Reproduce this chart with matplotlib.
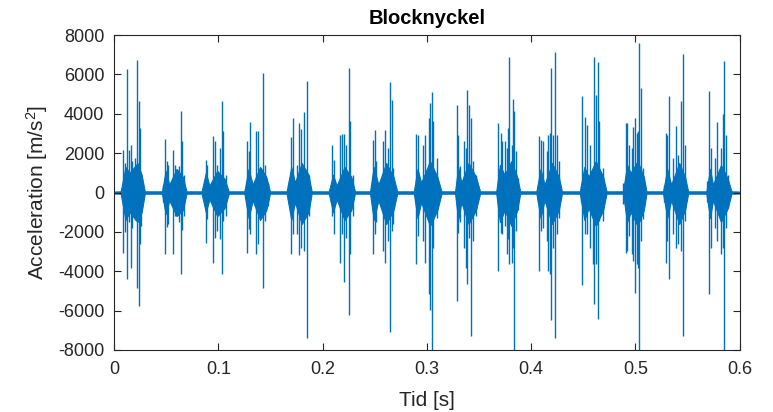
import numpy as np
import matplotlib.pyplot as plt

plt.rcParams['font.family'] = ['Liberation Sans', 'DejaVu Sans']
plt.rcParams['mathtext.fontset'] = 'custom'
plt.rcParams['mathtext.rm'] = 'Liberation Sans'
plt.rcParams['mathtext.it'] = 'Liberation Sans'
plt.rcParams['axes.unicode_minus'] = False

blue = '#0072BD'
dark = '#262626'

# dense core of each burst: envelope knots (time, upper, lower)
core_t = [0.0, 0.0064, 0.0110, 0.0150, 0.0225, 0.0265, 0.0295,
          0.0460, 0.0495, 0.0530, 0.0600, 0.0660, 0.0695,
          0.0840, 0.0880, 0.0915, 0.0990, 0.1060, 0.1100,
          0.1250, 0.1290, 0.1330, 0.1400, 0.1460, 0.1495,
          0.1655, 0.1700, 0.1735, 0.1800, 0.1865, 0.1895,
          0.2060, 0.2100, 0.2135, 0.2210, 0.2275, 0.2310,
          0.2455, 0.2490, 0.2535, 0.2610, 0.2680, 0.2715,
          0.2875, 0.2910, 0.2945, 0.3030, 0.3100, 0.3140,
          0.3270, 0.3300, 0.3330, 0.3400, 0.3470, 0.3510,
          0.3665, 0.3700, 0.3745, 0.3810, 0.3865, 0.3895,
          0.4050, 0.4090, 0.4128, 0.4200, 0.4265, 0.4295,
          0.4467, 0.4510, 0.4550, 0.4620, 0.4690, 0.4722,
          0.4880, 0.4920, 0.4955, 0.5020, 0.5080, 0.5105,
          0.5265, 0.5305, 0.5342, 0.5420, 0.5475, 0.5505,
          0.5680, 0.5715, 0.5743, 0.5820, 0.5885, 0.5920, 0.6]
core_hi = [50, 60, 1300, 1000, 1500, 900, 60,
           60, 1100, 400, 1200, 800, 60,
           60, 1000, 350, 1100, 700, 60,
           60, 1200, 400, 1300, 800, 60,
           60, 1300, 500, 1500, 900, 60,
           60, 900, 350, 1300, 800, 60,
           60, 1300, 400, 1500, 800, 60,
           60, 1200, 500, 1600, 800, 60,
           60, 1300, 500, 1500, 800, 60,
           60, 1400, 900, 1600, 800, 60,
           60, 1200, 400, 1500, 800, 60,
           60, 1300, 800, 1600, 800, 60,
           60, 1400, 1000, 1600, 800, 60,
           60, 1200, 400, 1500, 800, 60,
           60, 1200, 400, 1400, 700, 60, 50]
core_lo = [-50, -60, -1400, -1000, -1500, -1000, -60,
           -60, -1100, -400, -1200, -900, -60,
           -60, -1000, -350, -1200, -800, -60,
           -60, -1300, -400, -1400, -900, -60,
           -60, -1400, -500, -1600, -1000, -60,
           -60, -1000, -350, -1400, -900, -60,
           -60, -1400, -400, -1600, -900, -60,
           -60, -1300, -500, -1700, -900, -60,
           -60, -1400, -500, -1600, -900, -60,
           -60, -1500, -900, -1700, -900, -60,
           -60, -1300, -400, -1600, -900, -60,
           -60, -1400, -800, -1700, -900, -60,
           -60, -1500, -1000, -1700, -900, -60,
           -60, -1300, -400, -1600, -900, -60,
           -60, -1300, -400, -1500, -800, -60, -50]

# individual spikes sticking out of each burst: time, top, bottom
spike_t = [0.0089, 0.0102, 0.0121, 0.0141, 0.0166, 0.0176, 0.0201, 0.0224, 0.0236, 0.0249, 0.0262,
           0.0470, 0.0486, 0.0505, 0.0521, 0.0562, 0.0581, 0.0620, 0.0639, 0.0655, 0.0671,
           0.0882, 0.0895, 0.0952, 0.0965, 0.0990, 0.1016, 0.1035, 0.1048, 0.1070,
           0.1278, 0.1294, 0.1304, 0.1361, 0.1383, 0.1409, 0.1431, 0.1451, 0.1479,
           0.1677, 0.1693, 0.1713, 0.1751, 0.1770, 0.1792, 0.1824, 0.1847, 0.1869,
           0.2077, 0.2090, 0.2112, 0.2166, 0.2185, 0.2204, 0.2224, 0.2249, 0.2262, 0.2288,
           0.2486, 0.2502, 0.2511, 0.2575, 0.2597, 0.2629, 0.2649, 0.2661, 0.2677,
           0.2895, 0.2917, 0.2965, 0.2981, 0.3016, 0.3029, 0.3048, 0.3061, 0.3093,
           0.3284, 0.3300, 0.3316, 0.3358, 0.3374, 0.3387, 0.3400, 0.3422, 0.3444, 0.3470,
           0.3684, 0.3709, 0.3725, 0.3748, 0.3764, 0.3780, 0.3792, 0.3812, 0.3828, 0.3837, 0.3853, 0.3875,
           0.4064, 0.4077, 0.4093, 0.4109, 0.4147, 0.4163, 0.4179, 0.4189, 0.4211, 0.4230, 0.4243, 0.4268,
           0.4473, 0.4492, 0.4515, 0.4531, 0.4562, 0.4588, 0.4607, 0.4626, 0.4639, 0.4652, 0.4690,
           0.4882, 0.4907, 0.4914, 0.4936, 0.4962, 0.4978, 0.4994, 0.5013, 0.5026, 0.5038, 0.5051, 0.5074,
           0.5275, 0.5294, 0.5307, 0.5320, 0.5361, 0.5384, 0.5409, 0.5435, 0.5454, 0.5473,
           0.5690, 0.5703, 0.5722, 0.5760, 0.5786, 0.5818, 0.5837, 0.5853, 0.5866, 0.5888]
spike_hi = [2180, 1500, 6280, 2180, 2430, 1590, 1760, 6730, 4630, 3270, 910,
            400, 2730, 1620, 1380, 2180, 1420, 1330, 4150, 2600, 900,
            1670, 1420, 2850, 2630, 1420, 2260, 4630, 3100, 910,
            2600, 2090, 3580, 3100, 3100, 1250, 6060, 1420, 490,
            570, 2800, 3780, 1420, 3530, 3240, 4080, 5670, 910,
            320, 2430, 1670, 2940, 2970, 2970, 2430, 6310, 3650, 910,
            2680, 3190, 1590, 2600, 3190, 2260, 5600, 4710, 1250,
            2970, 2940, 2430, 2940, 3780, 4540, 5130, 3610, 1750,
            4420, 2940, 1330, 2600, 2260, 5220, 4450, 3780, 1590, 910,
            3530, 3020, 2600, 2600, 2260, 3270, 6900, 2430, 4760, 4120, 2090, 740,
            400, 2850, 2680, 2600, 2090, 2940, 3020, 6350, 2940, 7160, 2940, 1590,
            400, 4910, 3860, 3440, 2430, 1250, 6900, 4960, 6650, 3610, 1250,
            500, 3530, 3530, 2430, 2260, 3310, 3780, 3020, 3100, 7580, 5300, 1250,
            400, 3020, 2940, 4880, 1760, 3360, 1920, 4660, 7020, 2430,
            570, 5160, 2260, 1760, 3580, 2260, 3980, 6680, 2940, 910]
spike_lo = [-3060, -2000, -4400, -1500, -3820, -1800, -1400, -4830, -5760, -2630, -1700,
            -500, -3110, -1760, -1620, -3110, -1200, -1500, -4120, -1900, -1200,
            -2550, -1370, -3560, -2300, -1960, -2380, -4120, -1450, -1200,
            -3060, -1870, -2130, -3140, -2630, -1200, -4860, -1450, -700,
            -600, -3140, -2130, -2130, -3170, -2800, -2970, -7390, -1200,
            -500, -1200, -2130, -3560, -2130, -4570, -2300, -6210, -3140, -1200,
            -3140, -2130, -1500, -2970, -3560, -2460, -7110, -1960, -1620,
            -3610, -2210, -2460, -3560, -5160, -5980, -9000, -2800, -1280,
            -5500, -2040, -1500, -2800, -3820, -4660, -2300, -7280, -2460, -1200,
            -3980, -2040, -2130, -1700, -3140, -2380, -3650, -3560, -2800, -9000, -1960, -900,
            -500, -3980, -1960, -1790, -2460, -3980, -4150, -6480, -2800, -7390, -2130, -1280,
            -500, -4690, -2130, -2130, -2800, -3650, -5670, -3650, -6430, -1450, -1450,
            -600, -3060, -2970, -2210, -3140, -3480, -5080, -3650, -3820, -9000, -2460, -1370,
            -500, -3560, -2460, -4370, -2130, -2800, -2630, -2970, -7280, -1450,
            -500, -5160, -2800, -1790, -2460, -3140, -2800, -9000, -1790, -780]

fig = plt.figure(figsize=(7.73, 4.12), dpi=100)
ax = fig.add_axes([0.1475, 0.1505, 0.8095, 0.7645])

ax.fill_between(core_t, core_lo, core_hi, color=blue, lw=0.8, ec=blue)
ax.vlines(spike_t, spike_lo, spike_hi, color=blue, lw=1.0)

ax.set_xlim(0, 0.6)
ax.set_ylim(-8000, 8000)
ax.set_xticks(np.arange(0, 0.61, 0.1))
ax.set_xticklabels(['0', '0.1', '0.2', '0.3', '0.4', '0.5', '0.6'])
ax.set_yticks(np.arange(-8000, 8001, 2000))
ax.tick_params(direction='in', top=True, right=True, length=5, width=0.8,
               colors=dark, labelsize=13)
ax.tick_params(axis='x', pad=8)
ax.tick_params(axis='y', pad=7)
for s in ax.spines.values():
    s.set_color(dark)
    s.set_linewidth(0.8)

ax.set_title('Blocknyckel', fontsize=14.5, fontweight='bold', color='black', pad=8)
ax.set_xlabel('Tid [s]', fontsize=15, color=dark, labelpad=9)
ax.set_ylabel(r'Acceleration [m/s$^2$]', fontsize=15, color=dark, labelpad=6)

plt.savefig('out.png', dpi=100)
plt.close()
